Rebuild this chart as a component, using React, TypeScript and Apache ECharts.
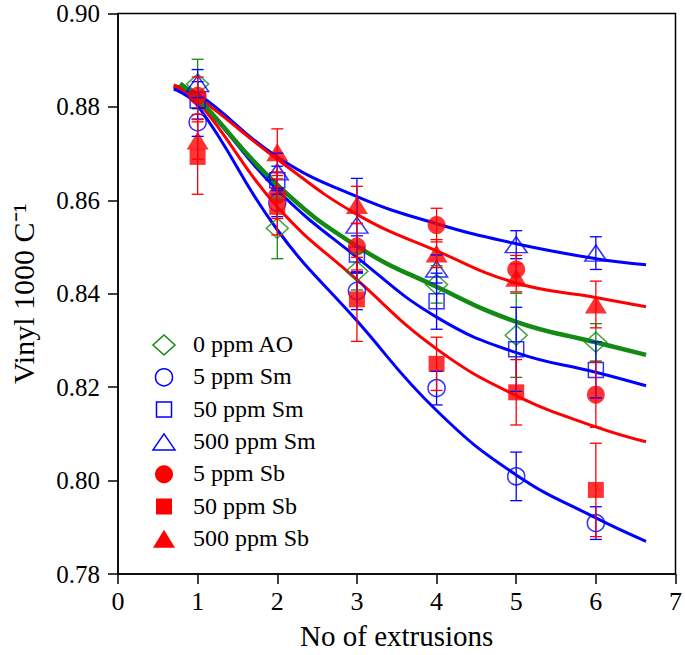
import React, { useEffect, useRef } from "react";
import * as echarts from "echarts";

// ---- data ----
const xCats = [1, 2, 3, 4, 5, 6];
const seriesNames = ["0 ppm AO", "5 ppm Sm", "50 ppm Sm", "500 ppm Sm", "5 ppm Sb", "50 ppm Sb", "500 ppm Sb"];

const ao0 = [0.8849, 0.854, 0.8448, 0.842, 0.8311, 0.8296];
const ao0Err = [0.0053, 0.0065, 0.004, 0.004, 0.009, 0.004];
const sm5 = [0.8767, 0.8595, 0.8406, 0.8198, 0.8009, 0.7909];
const sm5Err = [0.003, 0.003, 0.004, 0.0036, 0.0052, 0.0035];
const sm50 = [0.8814, 0.8643, 0.8484, 0.8384, 0.8281, 0.8237];
const sm50Err = [0.004, 0.003, 0.004, 0.006, 0.009, 0.006];
const sm500 = [0.885, 0.8661, 0.8547, 0.8453, 0.8505, 0.8487];
const sm500Err = [0.003, 0.004, 0.01, 0.003, 0.003, 0.0035];
const sb5 = [0.8824, 0.8611, 0.8501, 0.8547, 0.8452, 0.8184];
const sb5Err = [0.004, 0.005, 0.005, 0.0036, 0.003, 0.007];
const sb50 = [0.8693, 0.8586, 0.8388, 0.825, 0.8189, 0.798];
const sb50Err = [0.008, 0.006, 0.009, 0.0057, 0.007, 0.01];
const sb500 = [0.8728, 0.8703, 0.859, 0.8486, 0.8434, 0.8377];
const sb500Err = [0.004, 0.005, 0.004, 0.003, 0.003, 0.005];

// fitted curves
const fitX = [0.7, 1, 2, 3, 4, 5, 6, 6.63];
const fitAOx = [0.78, 1, 2, 3, 4, 5, 6, 6.63];
const fitAO = [0.885, 0.8819, 0.8633, 0.8502, 0.8415, 0.834, 0.8296, 0.8269];
const fitSm5 = [0.8838, 0.8803, 0.8537, 0.8342, 0.815, 0.8012, 0.792, 0.787];
const fitSm50 = [0.8842, 0.8815, 0.8622, 0.8478, 0.835, 0.8274, 0.8232, 0.8203];
const fitSm500 = [0.8845, 0.8828, 0.8693, 0.8608, 0.855, 0.8507, 0.8475, 0.8462];
const fitSbUpper = [0.8847, 0.8821, 0.8688, 0.857, 0.8492, 0.8423, 0.8392, 0.8372];
const fitSbLower = [0.8845, 0.8812, 0.8586, 0.843, 0.8282, 0.8182, 0.8115, 0.8083];

const xTicks = [0, 1, 2, 3, 4, 5, 6, 7];

const BLUE = "#0000ff";
const RED = "#ff0000";
const GREEN = "#138a13";
const FONT = "Liberation Serif";

type Mk = { shape: "diamond" | "circle" | "rect" | "triangle"; color: string; hollow: boolean; size: number | number[] };
const markers: Mk[] = [
  { shape: "diamond", color: GREEN, hollow: true, size: [22, 20] },
  { shape: "circle", color: BLUE, hollow: true, size: 17 },
  { shape: "rect", color: BLUE, hollow: true, size: 15 },
  { shape: "triangle", color: BLUE, hollow: true, size: [22, 16] },
  { shape: "circle", color: RED, hollow: false, size: 18 },
  { shape: "rect", color: RED, hollow: false, size: 16 },
  { shape: "triangle", color: RED, hollow: false, size: [22, 18] },
];

const values = [ao0, sm5, sm50, sm500, sb5, sb50, sb500];
const errors = [ao0Err, sm5Err, sm50Err, sm500Err, sb5Err, sb50Err, sb500Err];

export default function App() {
  const ref = useRef<HTMLDivElement>(null);
  useEffect(() => {
    if (!ref.current) return;
    const chart = echarts.init(ref.current, null, { renderer: "svg" });

    const scatterSeries = values.map((vals, i) => {
      const m = markers[i];
      return {
        type: "scatter",
        name: seriesNames[i],
        symbol: m.shape,
        symbolSize: m.size,
        z: 3,
        data: xCats.map((x, j) => [x, vals[j]]),
        itemStyle: m.hollow
          ? { color: "rgba(0,0,0,0)", borderColor: m.color, borderWidth: 1.5 }
          : { color: m.color },
      };
    });

    const errSeries = values.map((vals, i) => {
      const color = markers[i].color;
      return {
        type: "custom",
        name: "err" + i,
        silent: true,
        z: 4,
        data: xCats.map((x, j) => [x, vals[j], errors[i][j]]),
        encode: { x: 0, y: 1 },
        renderItem: (params: any, api: any) => {
          const x = api.value(0);
          const y = api.value(1);
          const e = api.value(2);
          const top = api.coord([x, y + e]);
          const bot = api.coord([x, y - e]);
          const h = 6;
          const st = { stroke: color, lineWidth: 1.3 };
          return {
            type: "group",
            children: [
              { type: "line", shape: { x1: top[0], y1: top[1], x2: bot[0], y2: bot[1] }, style: st },
              { type: "line", shape: { x1: top[0] - h, y1: top[1], x2: top[0] + h, y2: top[1] }, style: st },
              { type: "line", shape: { x1: bot[0] - h, y1: bot[1], x2: bot[0] + h, y2: bot[1] }, style: st },
            ],
          };
        },
      };
    });

    const mkLine = (name: string, xs: number[], ys: number[], color: string, w: number) => ({
      type: "line",
      name,
      smooth: 0.45,
      symbol: "none",
      z: 2,
      data: xs.map((x, i) => [x, ys[i]]),
      lineStyle: { color, width: w },
    });

    const lineSeries = [
      mkLine("fitSm500", fitX, fitSm500, BLUE, 3),
      mkLine("fitSbUpper", fitX, fitSbUpper, RED, 3),
      mkLine("fitSm50", fitX, fitSm50, BLUE, 3),
      mkLine("fitSbLower", fitX, fitSbLower, RED, 3),
      mkLine("fitSm5", fitX, fitSm5, BLUE, 3),
      mkLine("fitAO", fitAOx, fitAO, GREEN, 4.5),
    ];

    // legend drawn as graphic elements
    const legX = 164;
    const legY0 = 345;
    const legDy = 32.3;
    const legendEls: any[] = [];
    seriesNames.forEach((name, i) => {
      const m = markers[i];
      const cy = legY0 + i * legDy;
      const style = m.hollow
        ? { fill: "none", stroke: m.color, lineWidth: 1.5 }
        : { fill: m.color };
      const sz = Array.isArray(m.size) ? m.size : [m.size, m.size];
      const w = sz[0];
      const hh = sz[1];
      let el: any;
      if (m.shape === "circle") {
        el = { type: "circle", shape: { cx: legX, cy, r: w / 2 }, style };
      } else if (m.shape === "rect") {
        el = { type: "rect", shape: { x: legX - w / 2, y: cy - hh / 2, width: w, height: hh }, style };
      } else if (m.shape === "triangle") {
        el = {
          type: "polygon",
          shape: { points: [[legX, cy - hh / 2], [legX + w / 2, cy + hh / 2], [legX - w / 2, cy + hh / 2]] },
          style,
        };
      } else {
        el = {
          type: "polygon",
          shape: { points: [[legX, cy - hh / 2], [legX + w / 2, cy], [legX, cy + hh / 2], [legX - w / 2, cy]] },
          style,
        };
      }
      legendEls.push(el);
      legendEls.push({
        type: "text",
        x: 193,
        y: cy - 13,
        style: { text: name, fontFamily: FONT, fontSize: 24, fill: "#000" },
      });
    });

    chart.setOption({
      animation: false,
      grid: {
        left: 114.5,
        right: 6.7,
        top: 13.5,
        bottom: 78.7,
        show: true,
        borderColor: "#000",
        borderWidth: 1.5,
      },
      xAxis: {
        type: "value",
        min: xTicks[0],
        max: xTicks[xTicks.length - 1],
        interval: 1,
        name: "No of extrusions",
        nameLocation: "middle",
        nameGap: 47,
        nameTextStyle: { fontFamily: FONT, fontSize: 29, color: "#000" },
        axisLine: { show: true, lineStyle: { color: "#000", width: 1.5 } },
        axisTick: { show: true, length: 10, lineStyle: { color: "#000", width: 1.5 } },
        axisLabel: { fontFamily: FONT, fontSize: 26, color: "#000", margin: 14 },
        splitLine: { show: false },
      },
      yAxis: {
        type: "value",
        min: 0.78,
        max: 0.9,
        interval: 0.02,
        name: "Vinyl 1000 C\u207B\u00B9",
        nameLocation: "middle",
        nameGap: 80,
        nameTextStyle: { fontFamily: FONT, fontSize: 30, color: "#000" },
        axisLine: { show: true, lineStyle: { color: "#000", width: 1.5 } },
        axisTick: { show: true, length: 10, lineStyle: { color: "#000", width: 1.5 } },
        axisLabel: {
          fontFamily: FONT,
          fontSize: 25,
          color: "#000",
          margin: 18,
          formatter: (v: number) => v.toFixed(2),
        },
        splitLine: { show: false },
      },
      graphic: legendEls,
      series: [...lineSeries, ...scatterSeries, ...errSeries],
    } as any);

    return () => chart.dispose();
  }, []);

  return <div ref={ref} style={{ position: "absolute", left: 0, top: 0, width: 685, height: 655 }} />;
}
